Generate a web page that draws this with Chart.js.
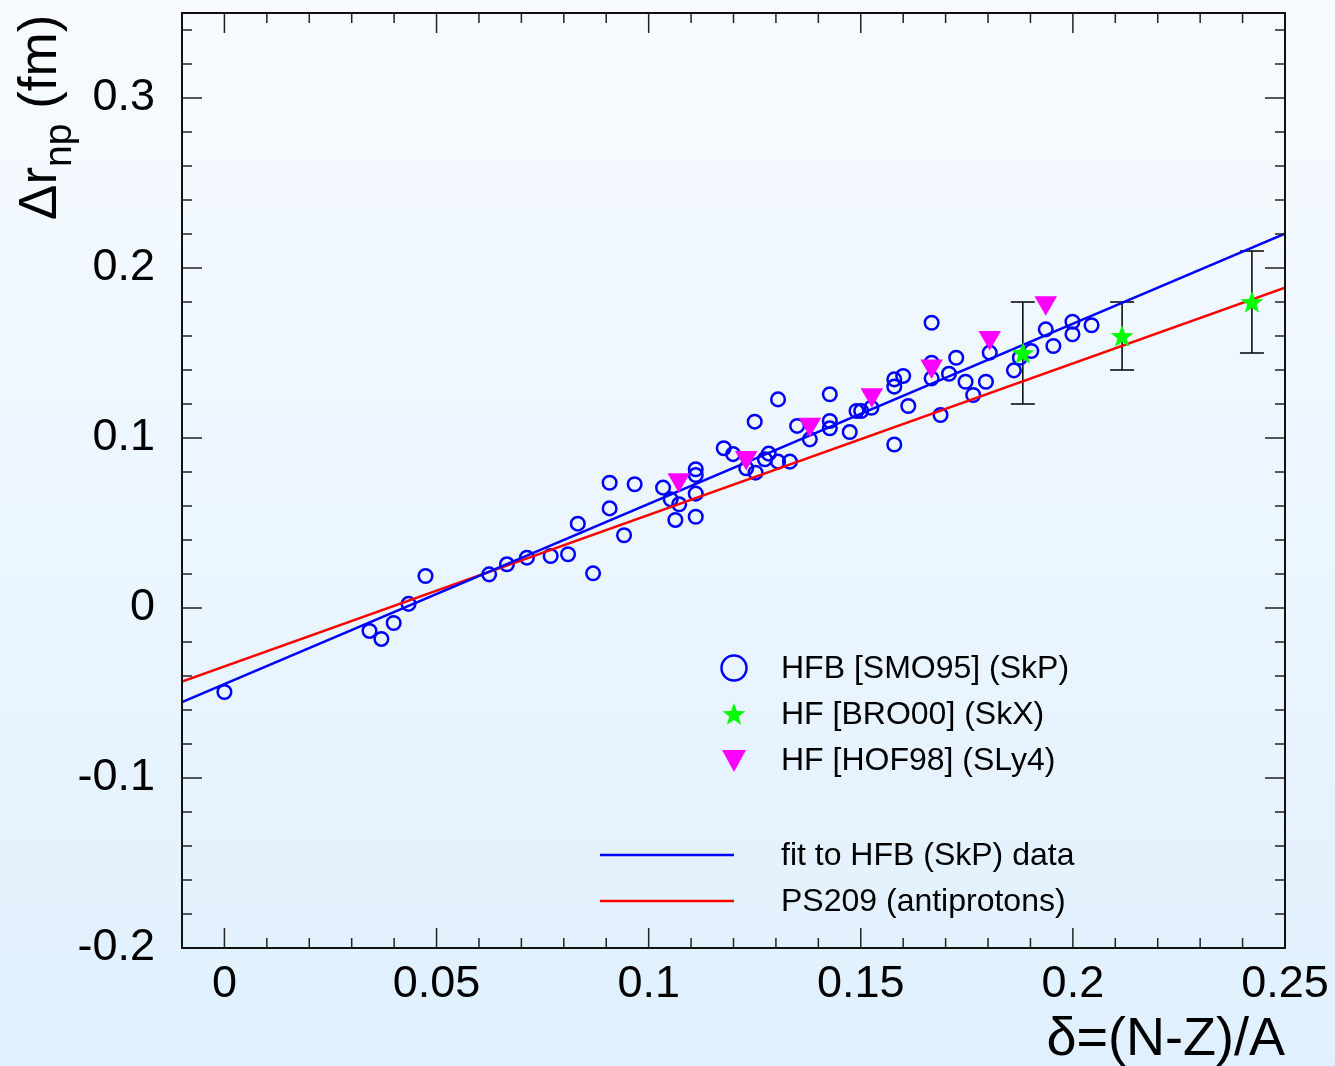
<!DOCTYPE html>
<html>
<head>
<meta charset="utf-8">
<script src="https://cdn.jsdelivr.net/npm/chart.js@4.4.0/dist/chart.umd.min.js"></script>
<style>
  html, body { margin:0; padding:0; background:#eaf5fe; }
  canvas { display:block; }
</style>
</head>
<body>
<canvas id="rnpChart" width="1335" height="1066"></canvas>
<script>
// HFB [SMO95] (SkP)
const hfbDelta = [0, 0.0342, 0.037, 0.0399, 0.0434, 0.0474, 0.0624, 0.0666, 0.0713, 0.0769, 0.081,
  0.0869, 0.0833, 0.0908, 0.0908, 0.0967, 0.0942, 0.1034, 0.1052, 0.1072, 0.1063,
  0.1111, 0.1111, 0.1111, 0.1111, 0.1177, 0.1199, 0.123, 0.1252, 0.1274, 0.1283, 0.125,
  0.1305, 0.1305, 0.1333, 0.135, 0.138, 0.1427, 0.1427, 0.1427, 0.1474, 0.149, 0.1501, 0.1525,
  0.1579, 0.1579, 0.1579, 0.16, 0.1612, 0.1667, 0.1667, 0.1667, 0.1688, 0.1708, 0.1725,
  0.1747, 0.1765, 0.1795, 0.1804, 0.1861, 0.1875, 0.1902, 0.1936, 0.1954, 0.1999, 0.1999, 0.2044];
const hfbDrnp = [-0.0494, -0.0135, -0.0182, -0.0088, 0.0024, 0.0188, 0.0198, 0.0257, 0.0296, 0.0306, 0.0316,
  0.0204, 0.0496, 0.0737, 0.0586, 0.0728, 0.0428, 0.0708, 0.0639, 0.061, 0.0518,
  0.0816, 0.0782, 0.0673, 0.0537, 0.0940, 0.0905, 0.0822, 0.0796, 0.0875, 0.0908, 0.1096,
  0.1227, 0.0861, 0.0861, 0.1071, 0.0992, 0.1257, 0.1100, 0.1057, 0.1035, 0.1159, 0.1159, 0.1178,
  0.0962, 0.1345, 0.1302, 0.1365, 0.1188, 0.1678, 0.1443, 0.1351, 0.1135, 0.1378, 0.1472,
  0.1331, 0.1253, 0.1331, 0.1502, 0.1398, 0.1472, 0.1512, 0.1639, 0.1541, 0.1684, 0.1610, 0.1663];

// HF [BRO00] (SkX), with error
const broDelta = [0.1882, 0.2116, 0.2422];
const broDrnp = [0.15, 0.16, 0.18];
const broErr = [0.03, 0.02, 0.03];

// HF [HOF98] (SLy4)
const hofDelta = [0.1071, 0.123, 0.138, 0.1526, 0.1667, 0.1804, 0.1936];
const hofDrnp = [0.0755, 0.0885, 0.1081, 0.1254, 0.1424, 0.1591, 0.1796];

// straight lines, end points
const fitDelta = [-0.01, 0.25];
const fitDrnp = [-0.0553, 0.2202];
const ps209Delta = [-0.01, 0.25];
const ps209Drnp = [-0.0433, 0.1884];

const xTickValues = [0, 0.05, 0.1, 0.15, 0.2, 0.25];
const xTickLabels = ['0', '0.05', '0.1', '0.15', '0.2', '0.25'];
const yTickValues = [-0.2, -0.1, 0, 0.1, 0.2, 0.3];
const yTickLabels = ['-0.2', '-0.1', '0', '0.1', '0.2', '0.3'];

const legendLabels = ['HFB [SMO95] (SkP)', 'HF [BRO00] (SkX)', 'HF [HOF98] (SLy4)',
  'fit to HFB (SkP) data', 'PS209 (antiprotons)'];

const FONT = '"Liberation Sans", Arial, Helvetica, sans-serif';

const pts = (xs, ys) => xs.map((x, i) => ({ x: x, y: ys[i] }));

function makeStar(r){
  const c = document.createElement('canvas');
  c.width = c.height = Math.ceil(r * 2 + 2);
  const g = c.getContext('2d');
  const cx = c.width / 2, cy = c.height / 2 + 1;
  g.beginPath();
  for (let i = 0; i < 10; i++){
    const rr = i % 2 ? r * 0.42 : r;
    const a = -Math.PI / 2 + i * Math.PI / 5;
    g.lineTo(cx + rr * Math.cos(a), cy + rr * Math.sin(a));
  }
  g.closePath();
  g.fillStyle = '#00ff00';
  g.fill();
  return c;
}
const starImg = makeStar(12);

const bgPlugin = {
  id:'bg',
  beforeDraw(chart){
    const ctx = chart.ctx;
    const gr = ctx.createLinearGradient(0, 0, 0, chart.height);
    gr.addColorStop(0, '#f7fbff');
    gr.addColorStop(1, '#e0f0fe');
    ctx.save();
    ctx.fillStyle = gr;
    ctx.fillRect(0, 0, chart.width, chart.height);
    ctx.restore();
  }
};

const errPlugin = {
  id:'errbars',
  beforeDatasetsDraw(chart){
    const ctx = chart.ctx, x = chart.scales.x, y = chart.scales.y;
    ctx.save();
    ctx.strokeStyle = '#000';
    ctx.lineWidth = 1.5;
    broDelta.forEach((d, i) => {
      const px = x.getPixelForValue(d);
      const top = y.getPixelForValue(broDrnp[i] + broErr[i]);
      const bot = y.getPixelForValue(broDrnp[i] - broErr[i]);
      ctx.beginPath();
      ctx.moveTo(px, top); ctx.lineTo(px, bot);
      ctx.moveTo(px - 12, top); ctx.lineTo(px + 12, top);
      ctx.moveTo(px - 12, bot); ctx.lineTo(px + 12, bot);
      ctx.stroke();
    });
    ctx.restore();
  }
};

const framePlugin = {
  id:'frame',
  afterDraw(chart){
    const ctx = chart.ctx, a = chart.chartArea;
    const x = chart.scales.x, y = chart.scales.y;
    ctx.save();
    // ticks, inside on all four sides
    ctx.strokeStyle = '#222';
    ctx.lineWidth = 1.5;
    ctx.beginPath();
    const xSteps = [];
    for (let i = 0; i < xTickValues.length - 1; i++){
      for (let k = 0; k < 5; k++) xSteps.push([xTickValues[i] + (xTickValues[i+1] - xTickValues[i]) * k / 5, k === 0]);
    }
    xSteps.push([xTickValues[xTickValues.length - 1], true]);
    xSteps.push([xTickValues[0] - (xTickValues[1] - xTickValues[0]) / 5, false]);
    xSteps.forEach(([v, major]) => {
      const px = x.getPixelForValue(v);
      if (px < a.left - 0.5 || px > a.right + 0.5) return;
      const len = major ? 20 : 10;
      ctx.moveTo(px, a.bottom); ctx.lineTo(px, a.bottom - len);
      ctx.moveTo(px, a.top); ctx.lineTo(px, a.top + len);
    });
    const ySteps = [];
    for (let i = 0; i < yTickValues.length - 1; i++){
      for (let k = 0; k < 5; k++) ySteps.push([yTickValues[i] + (yTickValues[i+1] - yTickValues[i]) * k / 5, k === 0]);
    }
    ySteps.push([yTickValues[yTickValues.length - 1], true]);
    ySteps.push([0.32, false], [0.34, false]);
    ySteps.forEach(([v, major]) => {
      const py = y.getPixelForValue(v);
      if (py < a.top - 0.5 || py > a.bottom + 0.5) return;
      const len = major ? 20 : 10;
      ctx.moveTo(a.left, py); ctx.lineTo(a.left + len, py);
      ctx.moveTo(a.right, py); ctx.lineTo(a.right - len, py);
    });
    ctx.stroke();
    // frame
    ctx.strokeStyle = '#111';
    ctx.lineWidth = 2;
    ctx.strokeRect(a.left, a.top, a.right - a.left, a.bottom - a.top);

    // legend
    ctx.fillStyle = '#000';
    ctx.textAlign = 'left';
    ctx.textBaseline = 'middle';
    const mx = 734, tx = 781;
    const rows = [668, 714, 760, 855, 901];
    ctx.strokeStyle = '#0000ff';
    ctx.lineWidth = 2.5;
    ctx.beginPath(); ctx.arc(mx, rows[0], 12.5, 0, Math.PI * 2); ctx.stroke();
    ctx.drawImage(starImg, mx - starImg.width / 2, rows[1] - starImg.height / 2);
    ctx.fillStyle = '#ff00ff';
    ctx.beginPath();
    ctx.moveTo(mx - 12, rows[2] - 10); ctx.lineTo(mx + 12, rows[2] - 10); ctx.lineTo(mx, rows[2] + 12);
    ctx.closePath(); ctx.fill();
    ctx.lineWidth = 2.5;
    ctx.strokeStyle = '#0000ff';
    ctx.beginPath(); ctx.moveTo(600, rows[3]); ctx.lineTo(734, rows[3]); ctx.stroke();
    ctx.strokeStyle = '#ff0000';
    ctx.beginPath(); ctx.moveTo(600, rows[4]); ctx.lineTo(734, rows[4]); ctx.stroke();
    ctx.fillStyle = '#000';
    ctx.font = '32px ' + FONT;
    legendLabels.forEach((t, i) => ctx.fillText(t, tx, rows[i] + 1));

    // axis titles
    ctx.font = '54px ' + FONT;
    ctx.textAlign = 'right';
    ctx.textBaseline = 'alphabetic';
    ctx.fillText('\u03b4=(N-Z)/A', 1285, 1055);

    ctx.translate(56, 220);
    ctx.rotate(-Math.PI / 2);
    ctx.textAlign = 'left';
    ctx.font = '53px ' + FONT;
    const w1 = ctx.measureText('\u0394r').width;
    ctx.fillText('\u0394r', 0, 0);
    ctx.font = '39px ' + FONT;
    const w2 = ctx.measureText('np').width;
    ctx.fillText('np', w1, 15);
    ctx.font = '53px ' + FONT;
    ctx.fillText(' (fm)', w1 + w2, 0);
    ctx.restore();
  }
};

const ctx = document.getElementById('rnpChart').getContext('2d');
new Chart(ctx, {
  type:'scatter',
  data:{
    datasets:[
      { label:legendLabels[1], data:pts(broDelta, broDrnp), pointStyle:starImg, pointRadius:12 },
      { label:legendLabels[2], data:pts(hofDelta, hofDrnp), pointStyle:'triangle', rotation:180,
        pointRadius:13, backgroundColor:'#ff00ff', borderWidth:0 },
      { label:legendLabels[3], data:pts(fitDelta, fitDrnp), showLine:true, pointRadius:0,
        borderColor:'#0000ff', borderWidth:2.5 },
      { label:legendLabels[4], data:pts(ps209Delta, ps209Drnp), showLine:true, pointRadius:0,
        borderColor:'#ff0000', borderWidth:2.5 },
      { label:legendLabels[0], data:pts(hfbDelta, hfbDrnp), pointStyle:'circle', pointRadius:6.8,
        borderColor:'#0000ff', backgroundColor:'rgba(0,0,0,0)', borderWidth:2.5 }
    ]
  },
  options:{
    responsive:false,
    animation:false,
    devicePixelRatio:1,
    layout:{ padding:{ left:0, top:13, right:50, bottom:0 } },
    plugins:{ legend:{ display:false }, tooltip:{ enabled:false } },
    scales:{
      x:{
        type:'linear', min:-0.01, max:0.25,
        grid:{ display:false }, border:{ display:false },
        afterBuildTicks: s => { s.ticks = xTickValues.map(v => ({ value:v })); },
        afterFit: s => { s.height = 118; s.paddingLeft = 0; s.paddingRight = 0; },
        ticks:{ color:'#000', padding:2, maxRotation:0, autoSkip:false,
          font:{ family:FONT, size:45 }, callback:(v, i) => xTickLabels[i] }
      },
      y:{
        type:'linear', min:-0.2, max:0.35,
        grid:{ display:false }, border:{ display:false },
        afterBuildTicks: s => { s.ticks = yTickValues.map(v => ({ value:v })); },
        afterFit: s => { s.width = 182; s.paddingTop = 0; s.paddingBottom = 0; },
        ticks:{ color:'#000', padding:19, autoSkip:false,
          font:{ family:FONT, size:45 }, callback:(v, i) => yTickLabels[i] }
      }
    }
  },
  plugins:[bgPlugin, errPlugin, framePlugin]
});
</script>
</body>
</html>
